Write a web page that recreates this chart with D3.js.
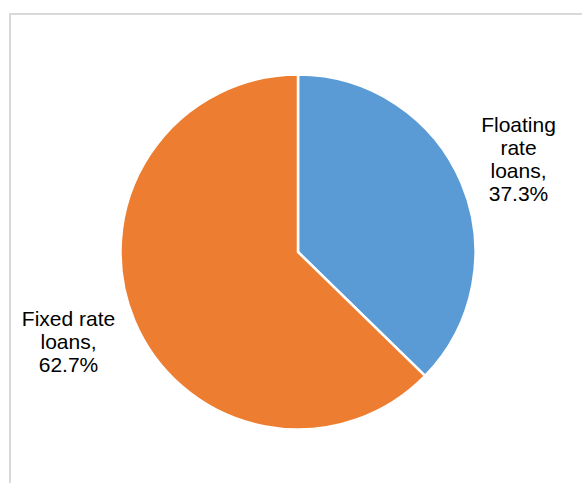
<!DOCTYPE html>
<html>
<head>
<meta charset="utf-8">
<script src="https://cdn.jsdelivr.net/npm/d3@7"></script>
<style>
  body { margin: 0; background: #fff; }
  text { font-family: "Liberation Sans", Arial, sans-serif; fill: #000; }
</style>
</head>
<body>
<div id="chart"></div>
<script>
const svgWidth = 582;
const svgHeight = 483;

// Data
const categories = ["Floating rate loans", "Fixed rate loans"];
const shares = [37.3, 62.7];
const labelLines = [
  ["Floating", "rate", "loans,", "37.3%"],
  ["Fixed rate", "loans,", "62.7%"]
];
const colors = ["#5B9BD5", "#ED7D31"];

const svg = d3.select("#chart")
  .append("svg")
  .attr("width", svgWidth)
  .attr("height", svgHeight);

// chart area border
svg.append("rect")
  .attr("x", 10)
  .attr("y", 14)
  .attr("width", 700)
  .attr("height", 600)
  .attr("fill", "none")
  .attr("stroke", "#d9d9d9")
  .attr("stroke-width", 2);

const cx = 298, cy = 252, radius = 177.5;

const pie = d3.pie().sort(null).value(d => d);
const arcs = pie(shares);
const arc = d3.arc().innerRadius(0).outerRadius(radius);

const pieGroup = svg.append("g")
  .attr("transform", `translate(${cx}, ${cy})`);

pieGroup.selectAll("path")
  .data(arcs)
  .enter()
  .append("path")
  .attr("d", arc)
  .attr("fill", (d, i) => colors[i])
  .attr("stroke", "#fff")
  .attr("stroke-width", 2.5)
  .attr("stroke-linejoin", "round");

// labels
const labelPos = [[518.5, 131.5], [68.5, 325.5]];
const lineHeight = 23.3;

labelLines.forEach((lines, i) => {
  const t = svg.append("text")
    .attr("text-anchor", "middle")
    .attr("font-size", "21px");
  lines.forEach((line, j) => {
    t.append("tspan")
      .attr("x", labelPos[i][0])
      .attr("y", labelPos[i][1] + j * lineHeight)
      .text(line);
  });
});
</script>
</body>
</html>
